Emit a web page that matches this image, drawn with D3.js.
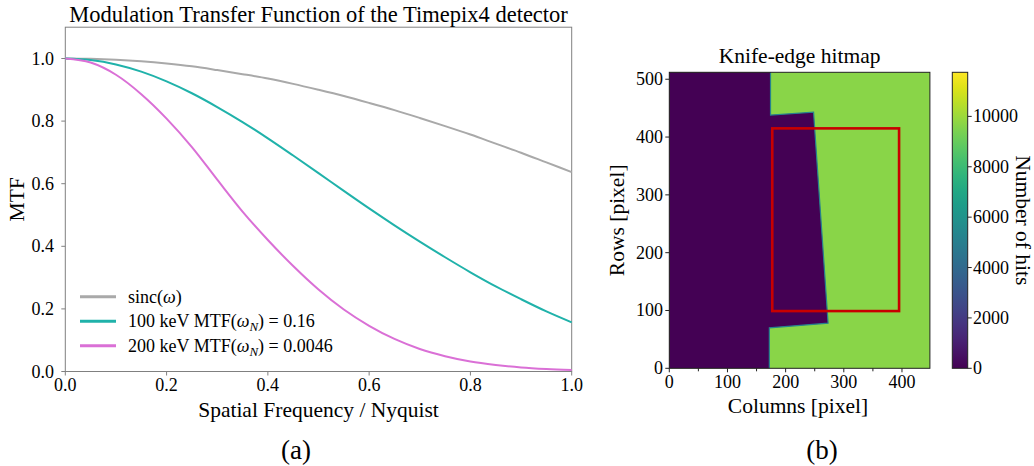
<!DOCTYPE html>
<html>
<head>
<meta charset="utf-8">
<script src="https://cdn.jsdelivr.net/npm/d3@7/dist/d3.min.js"></script>
<style>
body { margin: 0; background: #fff; }
svg text { font-family: "Liberation Serif", "DejaVu Serif", serif; fill: #000; }
</style>
</head>
<body>
<svg id="fig" width="1034" height="466"></svg>
<script>
// ---- panel (a): MTF curves ----
const freq    = [0, 0.05, 0.1, 0.15, 0.2, 0.25, 0.3, 0.35, 0.4, 0.45, 0.5, 0.55, 0.6, 0.65, 0.7, 0.75, 0.8, 0.85, 0.9, 0.95, 1.0];
const sincVals = [1.0, 0.999, 0.996, 0.991, 0.984, 0.975, 0.963, 0.950, 0.936, 0.919, 0.900, 0.880, 0.858, 0.835, 0.810, 0.784, 0.757, 0.728, 0.699, 0.668, 0.637];
const mtf100  = [1.0, 0.995, 0.981, 0.958, 0.927, 0.889, 0.845, 0.797, 0.745, 0.690, 0.634, 0.577, 0.521, 0.467, 0.415, 0.365, 0.317, 0.272, 0.231, 0.192, 0.157];
const mtf200  = [1.0, 0.987, 0.948, 0.886, 0.808, 0.717, 0.613, 0.511, 0.420, 0.337, 0.262, 0.198, 0.146, 0.104, 0.072, 0.049, 0.032, 0.021, 0.013, 0.008, 0.0046];
const seriesColors = ["#a9a9a9", "#20b2aa", "#da70d6"];
const xTicksA = [0, 0.2, 0.4, 0.6, 0.8, 1.0];
const yTicksA = [0, 0.2, 0.4, 0.6, 0.8, 1.0];

// ---- panel (b): knife-edge hitmap outline (column, row) and levels ----
const nCols = 448, nRows = 512;
const shadowCols = [0, 172, 172, 273, 248, 174, 174, 0];
const shadowRows = [0, 0, 70, 78, 443, 438, 512, 512];
const shadowHits = 0;
const openHits = 9650;
const roiCols = [177, 395];
const roiRows = [99, 415];
const colTicks = [0, 100, 200, 300, 400];
const colMinorTicks = [50, 150, 250, 350];
const rowTicks = [0, 100, 200, 300, 400, 500];
const cbarMax = 11750;
const cbarTicks = [0, 2000, 4000, 6000, 8000, 10000];

const svg = d3.select("#fig");
const axisGrey = "#808080";

// ================= panel (a) =================
const x = d3.scaleLinear().domain([0, 1]).range([65.3, 571.7]);
const y = d3.scaleLinear().domain([0, 1.1]).range([371.5, 27.2]);

const a = svg.append("g");
a.append("rect")
  .attr("x", x(0)).attr("y", y(1.1))
  .attr("width", x(1) - x(0)).attr("height", y(0) - y(1.1))
  .attr("fill", "none").attr("stroke", axisGrey).attr("stroke-width", 1);

const line = d3.line()
  .x(d => x(d[0]))
  .y(d => y(d[1]))
  .curve(d3.curveMonotoneX);

const allSeries = [sincVals, mtf100, mtf200];
allSeries.forEach(function(vals, i) {
  a.append("path")
    .datum(freq.map((f, j) => [f, vals[j]]))
    .attr("d", line)
    .attr("fill", "none")
    .attr("stroke", seriesColors[i])
    .attr("stroke-width", 2);
});

// ticks
a.selectAll(".xt").data(xTicksA).enter().append("line")
  .attr("x1", d => x(d)).attr("x2", d => x(d))
  .attr("y1", y(0)).attr("y2", y(0) + 4)
  .attr("stroke", axisGrey);
a.selectAll(".xl").data(xTicksA).enter().append("text")
  .attr("x", d => x(d)).attr("y", 391)
  .attr("text-anchor", "middle").style("font-size", "18px")
  .text(d => d3.format(".1f")(d));
a.selectAll(".yt").data(yTicksA).enter().append("line")
  .attr("x1", x(0) - 4).attr("x2", x(0))
  .attr("y1", d => y(d)).attr("y2", d => y(d))
  .attr("stroke", axisGrey);
a.selectAll(".yl").data(yTicksA).enter().append("text")
  .attr("x", 54).attr("y", d => y(d) + 6)
  .attr("text-anchor", "end").style("font-size", "18px")
  .text(d => d3.format(".1f")(d));

a.append("text").attr("x", (x(0) + x(1)) / 2).attr("y", 22)
  .attr("text-anchor", "middle").style("font-size", "22.5px")
  .text("Modulation Transfer Function of the Timepix4 detector");
a.append("text").attr("x", (x(0) + x(1)) / 2).attr("y", 417)
  .attr("text-anchor", "middle").style("font-size", "21.5px")
  .text("Spatial Frequency / Nyquist");
a.append("text")
  .attr("transform", "translate(24," + ((y(0) + y(1.1)) / 2) + ") rotate(-90)")
  .attr("text-anchor", "middle").style("font-size", "21.5px")
  .text("MTF");
a.append("text").attr("x", 296).attr("y", 459)
  .attr("text-anchor", "middle").style("font-size", "27px")
  .text("(a)");

// legend
const legendParts = [
  [["sinc(", ""], ["ω", "i"], [")", ""]],
  [["100 keV MTF(", ""], ["ω", "i"], ["N", "sub"], [") = 0.16", "up"]],
  [["200 keV MTF(", ""], ["ω", "i"], ["N", "sub"], [") = 0.0046", "up"]]
];
legendParts.forEach(function(parts, i) {
  const ly = 296.7 + i * 24.5;
  a.append("line").attr("x1", 80).attr("x2", 116)
    .attr("y1", ly).attr("y2", ly)
    .attr("stroke", seriesColors[i]).attr("stroke-width", 3);
  const t = a.append("text").attr("x", 128).attr("y", ly + 6).style("font-size", "18px");
  parts.forEach(function(p) {
    const ts = t.append("tspan").text(p[0]);
    if (p[1] == "i") ts.style("font-style", "italic");
    if (p[1] == "sub") ts.style("font-style", "italic").style("font-size", "13px").attr("dy", 4);
    if (p[1] == "up") ts.attr("dy", -4);
  });
});

// ================= panel (b) =================
const cx = d3.scaleLinear().domain([0, nCols]).range([669.3, 929.9]);
const cy = d3.scaleLinear().domain([0, nRows]).range([368.3, 72.3]);
const cval = d3.scaleSequential(d3.interpolateViridis).domain([0, cbarMax]);

const b = svg.append("g");
b.append("rect")
  .attr("x", cx(0)).attr("y", cy(nRows))
  .attr("width", cx(nCols) - cx(0)).attr("height", cy(0) - cy(nRows))
  .attr("fill", cval(openHits));

const shadowPts = shadowCols.map((c, i) => [cx(c), cy(shadowRows[i])]);
b.append("path")
  .attr("d", d3.line()(shadowPts) + "Z")
  .attr("fill", cval(shadowHits));
// blurred edge of the knife
b.append("path")
  .attr("d", d3.line()(shadowPts.slice(1, 7)))
  .attr("fill", "none")
  .attr("stroke", cval(5200))
  .attr("stroke-width", 1.2);

// region of interest
b.append("rect")
  .attr("x", cx(roiCols[0])).attr("y", cy(roiRows[1]))
  .attr("width", cx(roiCols[1]) - cx(roiCols[0]))
  .attr("height", cy(roiRows[0]) - cy(roiRows[1]))
  .attr("fill", "none").attr("stroke", "#c80000").attr("stroke-width", 2.6);

b.append("rect")
  .attr("x", cx(0)).attr("y", cy(nRows))
  .attr("width", cx(nCols) - cx(0)).attr("height", cy(0) - cy(nRows))
  .attr("fill", "none").attr("stroke", "#222").attr("stroke-width", 1);

b.selectAll(".ct").data(colTicks).enter().append("line")
  .attr("x1", d => cx(d)).attr("x2", d => cx(d))
  .attr("y1", cy(0)).attr("y2", cy(0) + 4)
  .attr("stroke", "#222");
b.selectAll(".cm").data(colMinorTicks).enter().append("line")
  .attr("x1", d => cx(d)).attr("x2", d => cx(d))
  .attr("y1", cy(0)).attr("y2", cy(0) + 3)
  .attr("stroke", "#222");
b.selectAll(".cl").data(colTicks).enter().append("text")
  .attr("x", d => cx(d)).attr("y", 388)
  .attr("text-anchor", "middle").style("font-size", "18px")
  .text(d => d);
b.selectAll(".rt").data(rowTicks).enter().append("line")
  .attr("x1", cx(0) - 4).attr("x2", cx(0))
  .attr("y1", d => cy(d)).attr("y2", d => cy(d))
  .attr("stroke", "#222");
b.selectAll(".rl").data(rowTicks).enter().append("text")
  .attr("x", 663).attr("y", d => cy(d) + 6)
  .attr("text-anchor", "end").style("font-size", "18px")
  .text(d => d);

b.append("text").attr("x", (cx(0) + cx(nCols)) / 2).attr("y", 62.5)
  .attr("text-anchor", "middle").style("font-size", "21.5px")
  .text("Knife-edge hitmap");
b.append("text").attr("x", 798).attr("y", 413)
  .attr("text-anchor", "middle").style("font-size", "21.5px")
  .text("Columns [pixel]");
b.append("text")
  .attr("transform", "translate(624," + ((cy(0) + cy(nRows)) / 2) + ") rotate(-90)")
  .attr("text-anchor", "middle").style("font-size", "21.5px")
  .text("Rows [pixel]");
b.append("text").attr("x", 822).attr("y", 459)
  .attr("text-anchor", "middle").style("font-size", "27px")
  .text("(b)");

// colorbar
const cb = d3.scaleLinear().domain([0, cbarMax]).range([368.3, 72.3]);
const grad = svg.append("defs").append("linearGradient")
  .attr("id", "viridis").attr("x1", "0").attr("y1", "1").attr("x2", "0").attr("y2", "0");
d3.range(0, 1.0001, 0.05).forEach(function(t) {
  grad.append("stop").attr("offset", t).attr("stop-color", d3.interpolateViridis(t));
});
b.append("rect")
  .attr("x", 952.3).attr("y", cb(cbarMax))
  .attr("width", 15.4).attr("height", cb(0) - cb(cbarMax))
  .attr("fill", "url(#viridis)").attr("stroke", "#222").attr("stroke-width", 1);
b.selectAll(".bt").data(cbarTicks).enter().append("line")
  .attr("x1", 967.7).attr("x2", 971.7)
  .attr("y1", d => cb(d)).attr("y2", d => cb(d))
  .attr("stroke", "#222");
b.selectAll(".bl").data(cbarTicks).enter().append("text")
  .attr("x", 973).attr("y", d => cb(d) + 6)
  .style("font-size", "18px")
  .text(d => d);
b.append("text")
  .attr("transform", "translate(1016," + ((cb(0) + cb(cbarMax)) / 2) + ") rotate(90)")
  .attr("text-anchor", "middle").style("font-size", "21.5px")
  .text("Number of hits");
</script>
</body>
</html>
